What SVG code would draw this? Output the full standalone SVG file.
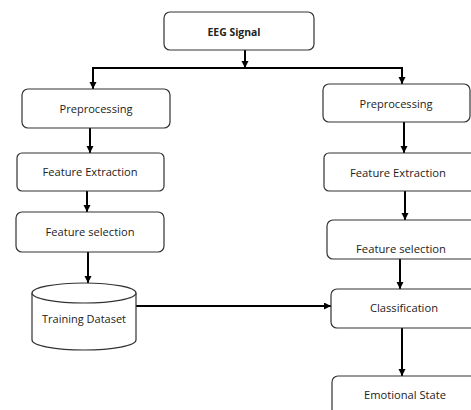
<svg xmlns="http://www.w3.org/2000/svg" width="471" height="410" viewBox="0 0 471 410">
<style>
.box{fill:#fff;stroke:#333;stroke-width:1.2}
.lbl{font-family:"Open Sans","Liberation Sans",Arial,sans-serif;font-size:10px;fill:#222;text-anchor:middle;dominant-baseline:central}
.b{font-weight:bold}
.c{fill:none;stroke:#000;stroke-width:2}
.ca{fill:none;stroke:#000;stroke-width:2;marker-end:url(#ah)}
</style>
<defs>
<marker id="ah" markerUnits="userSpaceOnUse" markerWidth="8" markerHeight="8" refX="7" refY="3.5" orient="auto">
<path d="M0,0 L7,3.5 L0,7 z" fill="#000"/>
</marker>
</defs>
<rect width="471" height="410" fill="#fff"/>
<g id="connectors">
<line class="ca" x1="245" y1="50" x2="245" y2="68"/>
<line class="c" x1="92" y1="68" x2="403" y2="68"/>
<line class="ca" x1="93" y1="68" x2="93" y2="89"/>
<line class="ca" x1="402" y1="68" x2="402" y2="84"/>
<line class="ca" x1="90" y1="128" x2="90" y2="153"/>
<line class="ca" x1="87" y1="191" x2="87" y2="212"/>
<line class="ca" x1="88" y1="252" x2="88" y2="283"/>
<line class="ca" x1="404" y1="122" x2="404" y2="153"/>
<line class="ca" x1="405" y1="191" x2="405" y2="220"/>
<line class="ca" x1="400" y1="259" x2="400" y2="289"/>
<line class="ca" x1="402" y1="328" x2="402" y2="376"/>
<line class="ca" x1="136" y1="306" x2="331" y2="306"/>
</g>
<g id="eeg"><rect class="box" x="164" y="12" width="150" height="38" rx="6"/><text class="lbl b" x="234" y="32" textLength="53" lengthAdjust="spacingAndGlyphs">EEG Signal</text></g>
<g id="pre-l"><rect class="box" x="22" y="89" width="148" height="39" rx="6"/><text class="lbl" x="96" y="109" textLength="73" lengthAdjust="spacingAndGlyphs">Preprocessing</text></g>
<g id="fe-l"><rect class="box" x="17" y="153" width="147" height="38" rx="5"/><text class="lbl" x="90" y="172" textLength="95" lengthAdjust="spacingAndGlyphs">Feature Extraction</text></g>
<g id="fs-l"><rect class="box" x="16" y="212" width="148" height="40" rx="6"/><text class="lbl" x="90" y="232" textLength="89" lengthAdjust="spacingAndGlyphs">Feature selection</text></g>
<g id="train">
<path class="box" d="M32,293 L32,340 A52,10 0 0 0 136,340 L136,293"/>
<ellipse class="box" cx="84" cy="293" rx="52" ry="10"/>
<text class="lbl" x="84" y="319" textLength="84" lengthAdjust="spacingAndGlyphs">Training Dataset</text>
</g>
<g id="pre-r"><rect class="box" x="323" y="84" width="147" height="38" rx="6"/><text class="lbl" x="396" y="104" textLength="73" lengthAdjust="spacingAndGlyphs">Preprocessing</text></g>
<g id="fe-r"><rect class="box" x="324" y="153" width="152" height="38" rx="5"/><text class="lbl" x="398" y="173" textLength="96" lengthAdjust="spacingAndGlyphs">Feature Extraction</text></g>
<g id="fs-r"><rect class="box" x="327" y="220" width="150" height="39" rx="6"/><text class="lbl" x="401" y="249" textLength="90" lengthAdjust="spacingAndGlyphs">Feature selection</text></g>
<g id="cls"><rect class="box" x="331" y="289" width="150" height="39" rx="6"/><text class="lbl" x="404" y="308" textLength="68" lengthAdjust="spacingAndGlyphs">Classification</text></g>
<g id="emo"><rect class="box" x="332" y="376" width="150" height="45" rx="6"/><text class="lbl" x="405" y="395" textLength="82" lengthAdjust="spacingAndGlyphs">Emotional State</text></g>
</svg>
